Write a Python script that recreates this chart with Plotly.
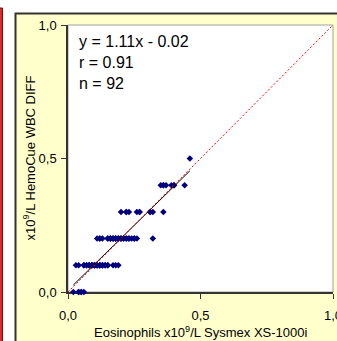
import plotly.graph_objects as go

# ---------------- data ----------------
hemocue_levels = [0.0, 0.1, 0.2, 0.3, 0.4, 0.5]
sysmex_at_00 = [0.02, 0.04, 0.04, 0.05, 0.05, 0.06]
sysmex_at_01 = [0.03, 0.04, 0.06, 0.07, 0.08, 0.09, 0.10, 0.11, 0.12, 0.13, 0.14, 0.15,
                0.17, 0.18, 0.19, 0.06, 0.07, 0.08, 0.08, 0.09, 0.09, 0.10, 0.10, 0.11,
                0.11, 0.12, 0.12, 0.13, 0.14, 0.10, 0.11, 0.12, 0.13, 0.15]
sysmex_at_02 = [0.11, 0.12, 0.13, 0.15, 0.16, 0.17, 0.18, 0.19, 0.20, 0.21, 0.22, 0.23,
                0.24, 0.25, 0.26, 0.32, 0.12, 0.15, 0.16, 0.16, 0.17, 0.17, 0.18, 0.18,
                0.19, 0.19, 0.20, 0.20, 0.21, 0.22, 0.23, 0.25]
sysmex_at_03 = [0.20, 0.22, 0.23, 0.26, 0.27, 0.31, 0.32, 0.36, 0.22, 0.27, 0.31]
sysmex_at_04 = [0.35, 0.36, 0.37, 0.39, 0.40, 0.44, 0.36, 0.40]
sysmex_at_05 = [0.46]
sysmex_rows = [sysmex_at_00, sysmex_at_01, sysmex_at_02, sysmex_at_03, sysmex_at_04, sysmex_at_05]

trend_x = [0.02, 0.46]
trend_y = [0.026, 0.454]
identity_xy = [0.0, 1.0]

tick_vals = [0.0, 0.5, 1.0]
tick_text = ["0,0", "0,5", "1,0"]
stats_lines = ["y = 1.11x - 0.02", "r = 0.91", "n = 92"]

x_title = "Eosinophils x10<sup>9</sup>/L Sysmex XS-1000i"
y_title = "x10<sup>9</sup>/L HemoCue WBC DIFF"

# ---------------- build ----------------
xs, ys = [], []
for lvl, row in zip(hemocue_levels, sysmex_rows):
    xs += row
    ys += [lvl] * len(row)

W, H = 337, 341
L, R, T, B = 68, 4, 25, 49
PW, PH = W - L - R, H - T - B


def px2x(px):
    return (px - L) / PW


def py2y(py):
    return (H - B - py) / PH


FONT = "Arial, 'Liberation Sans', sans-serif"

fig = go.Figure()
fig.add_trace(go.Scatter(x=xs, y=ys, mode="markers", cliponaxis=False,
                         marker=dict(symbol="diamond", size=5, color="#000080",
                                     line=dict(width=0)),
                         showlegend=False, hoverinfo="x+y"))
fig.add_trace(go.Scatter(x=trend_x, y=trend_y, mode="lines",
                         line=dict(color="#000000", width=1), showlegend=False))
fig.add_trace(go.Scatter(x=identity_xy, y=identity_xy, mode="lines",
                         line=dict(color="#FF0000", width=1, dash="2px,2px"),
                         showlegend=False))

shapes = [
    # left red rule
    dict(type="rect", xref="paper", yref="paper", layer="below",
         x0=px2x(-1), x1=px2x(2.5), y0=py2y(360), y1=py2y(8),
         fillcolor="#E02828", line=dict(color="#6A1010", width=1)),
    # yellow panel
    dict(type="rect", xref="paper", yref="paper", layer="below",
         x0=px2x(15.5), x1=px2x(360), y0=py2y(360), y1=py2y(13.5),
         fillcolor="#FFFFCC", line=dict(color="#333333", width=2)),
    # plot area
    dict(type="rect", xref="paper", yref="paper", layer="below",
         x0=0, x1=1, y0=0, y1=1,
         fillcolor="#FFFFFF", line=dict(color="#A0A0A0", width=1)),
]

annotations = []
for i, s in enumerate(stats_lines):
    annotations.append(dict(text=s, xref="paper", yref="paper",
                            x=px2x(77), y=py2y(41.7 + 20.8 * i),
                            xanchor="left", yanchor="middle", showarrow=False,
                            font=dict(family=FONT, size=16, color="#000000")))
annotations.append(dict(text=x_title, xref="paper", yref="paper",
                        x=0.5, y=py2y(332), xanchor="center", yanchor="middle",
                        showarrow=False,
                        font=dict(family=FONT, size=13, color="#000000")))
annotations.append(dict(text=y_title, xref="paper", yref="paper",
                        x=px2x(29), y=0.5, xanchor="center", yanchor="middle",
                        textangle=-90, showarrow=False,
                        font=dict(family=FONT, size=13, color="#000000")))

axis_common = dict(range=[0, 1], tickmode="array", tickvals=tick_vals, ticktext=tick_text,
                   ticks="outside", ticklen=5, tickwidth=1, tickcolor="#333333",
                   showline=True, linecolor="#333333", linewidth=1.5,
                   showgrid=False, zeroline=False, layer="below traces",
                   ticklabeloverflow="allow", automargin=False,
                   tickfont=dict(family=FONT, size=13, color="#000000"))

fig.update_layout(
    width=W, height=H, autosize=False,
    margin=dict(l=L, r=R, t=T, b=B, pad=0, autoexpand=False),
    paper_bgcolor="#FFFFFF", plot_bgcolor="rgba(0,0,0,0)",
    xaxis=dict(**axis_common, ticklabelstandoff=6),
    yaxis=dict(**axis_common, ticklabelstandoff=2),
    shapes=shapes, annotations=annotations,
    font=dict(family=FONT, size=13, color="#000000"),
)

fig.write_html("out.html", config={"displayModeBar": False})
